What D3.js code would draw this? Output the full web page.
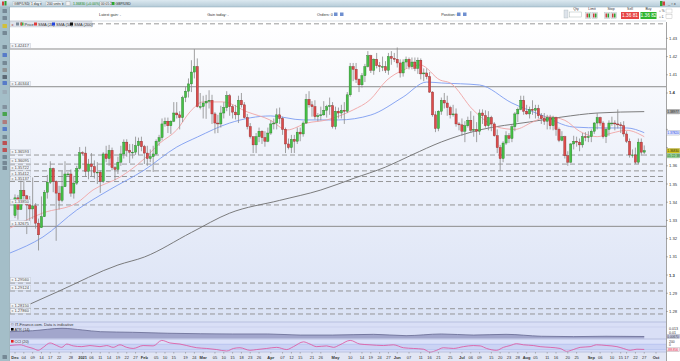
<!DOCTYPE html>
<html>
<head>
<meta charset="utf-8">
<script src="https://cdn.jsdelivr.net/npm/d3@7"></script>
<style>
  body { margin: 0; background: #fff; }
  svg text { font-family: "Liberation Sans", Arial, sans-serif; }
</style>
</head>
<body>
<svg id="chart" width="680" height="361"></svg>
<script>
// GBP/USD daily, 1 Dec 2020 -> 27 Sep 2021 (one row per weekday: open, high, low, close)
const ohlc = [
  // Dec 2020
  [1.3327,1.3443,1.3313,1.3424],[1.3424,1.3440,1.3304,1.3360],[1.3360,1.3540,1.3360,1.3465],[1.3465,1.3539,1.3404,1.3435],
  [1.3435,1.3440,1.3225,1.3385],[1.3385,1.3434,1.3286,1.3363],[1.3363,1.3536,1.3307,1.3380],[1.3380,1.3395,1.3255,1.3285],
  [1.3285,1.3310,1.3135,1.3221],[1.3260,1.3432,1.3260,1.3320],[1.3320,1.3467,1.3320,1.3455],[1.3455,1.3550,1.3420,1.3510],
  [1.3510,1.3625,1.3500,1.3585],[1.3585,1.3590,1.3455,1.3515],[1.3515,1.3520,1.3188,1.3450],[1.3450,1.3490,1.3360,1.3410],
  [1.3410,1.3570,1.3400,1.3485],[1.3485,1.3625,1.3485,1.3555],[1.3555,1.3565,1.3540,1.3555],[1.3555,1.3580,1.3430,1.3450],
  [1.3450,1.3545,1.3420,1.3505],[1.3505,1.3600,1.3495,1.3585],[1.3585,1.3703,1.3580,1.3672],
  // Jan 2021
  [1.3672,1.3680,1.3660,1.3670],[1.3670,1.3705,1.3540,1.3570],[1.3570,1.3638,1.3526,1.3610],[1.3610,1.3670,1.3540,1.3595],
  [1.3595,1.3630,1.3530,1.3565],[1.3565,1.3620,1.3500,1.3565],[1.3565,1.3575,1.3451,1.3515],[1.3515,1.3675,1.3505,1.3665],
  [1.3665,1.3710,1.3620,1.3640],[1.3640,1.3715,1.3600,1.3685],[1.3685,1.3700,1.3575,1.3590],[1.3590,1.3600,1.3520,1.3580],
  [1.3580,1.3650,1.3555,1.3620],[1.3620,1.3710,1.3600,1.3665],[1.3665,1.3745,1.3640,1.3730],[1.3730,1.3746,1.3650,1.3685],
  [1.3685,1.3720,1.3615,1.3675],[1.3675,1.3720,1.3640,1.3675],[1.3675,1.3760,1.3660,1.3710],[1.3710,1.3755,1.3660,1.3735],
  [1.3735,1.3760,1.3680,1.3705],
  // Feb
  [1.3705,1.3715,1.3610,1.3670],[1.3670,1.3710,1.3600,1.3640],[1.3640,1.3690,1.3620,1.3650],[1.3650,1.3710,1.3566,1.3665],
  [1.3665,1.3745,1.3660,1.3735],[1.3735,1.3770,1.3710,1.3755],[1.3755,1.3860,1.3740,1.3830],[1.3830,1.3865,1.3815,1.3845],
  [1.3845,1.3865,1.3780,1.3820],[1.3820,1.3850,1.3775,1.3845],[1.3845,1.3950,1.3840,1.3890],[1.3890,1.3950,1.3860,1.3880],
  [1.3880,1.3900,1.3800,1.3865],[1.3865,1.3985,1.3840,1.3975],[1.3975,1.4035,1.3950,1.4010],[1.4010,1.4080,1.3975,1.4050],
  [1.4050,1.4180,1.4005,1.4115],[1.4115,1.4241,1.4080,1.4145],[1.4145,1.4190,1.3920,1.3925],[1.3925,1.4000,1.3910,1.3925],
  // Mar
  [1.3925,1.3985,1.3860,1.3945],[1.3945,1.3990,1.3858,1.3955],[1.3955,1.4015,1.3915,1.3960],[1.3960,1.3990,1.3830,1.3885],
  [1.3885,1.3895,1.3778,1.3835],[1.3835,1.3880,1.3780,1.3830],[1.3830,1.3930,1.3810,1.3890],[1.3890,1.3950,1.3860,1.3920],
  [1.3920,1.4010,1.3900,1.3985],[1.3985,1.3995,1.3875,1.3925],[1.3925,1.3935,1.3860,1.3895],[1.3895,1.3935,1.3855,1.3880],
  [1.3880,1.3985,1.3835,1.3960],[1.3960,1.4000,1.3920,1.3935],[1.3935,1.3950,1.3860,1.3865],[1.3865,1.3885,1.3800,1.3815],
  [1.3815,1.3835,1.3750,1.3760],[1.3760,1.3760,1.3670,1.3715],[1.3715,1.3780,1.3670,1.3760],[1.3760,1.3810,1.3730,1.3790],
  [1.3790,1.3795,1.3720,1.3755],[1.3755,1.3790,1.3705,1.3735],[1.3735,1.3810,1.3730,1.3780],
  // Apr
  [1.3780,1.3850,1.3770,1.3830],[1.3830,1.3860,1.3800,1.3835],[1.3835,1.3915,1.3800,1.3880],[1.3880,1.3920,1.3830,1.3860],
  [1.3860,1.3870,1.3770,1.3800],[1.3800,1.3810,1.3670,1.3720],[1.3720,1.3750,1.3690,1.3700],[1.3700,1.3770,1.3670,1.3745],
  [1.3745,1.3770,1.3670,1.3735],[1.3735,1.3810,1.3720,1.3785],[1.3785,1.3810,1.3735,1.3775],[1.3775,1.3845,1.3760,1.3835],
  [1.3835,1.3995,1.3830,1.3965],[1.3965,1.4010,1.3920,1.3935],[1.3935,1.3955,1.3870,1.3925],[1.3925,1.3960,1.3855,1.3870],
  [1.3870,1.3890,1.3845,1.3875],[1.3875,1.3925,1.3850,1.3880],[1.3880,1.3955,1.3875,1.3905],[1.3905,1.3935,1.3865,1.3925],
  [1.3925,1.3975,1.3880,1.3930],[1.3930,1.3950,1.3805,1.3815],
  // May
  [1.3815,1.3925,1.3800,1.3900],[1.3900,1.3920,1.3860,1.3890],[1.3890,1.3935,1.3860,1.3905],[1.3905,1.3950,1.3830,1.3900],
  [1.3900,1.4005,1.3890,1.3990],[1.3990,1.4165,1.3980,1.4145],[1.4145,1.4165,1.4065,1.4130],[1.4130,1.4165,1.4055,1.4075],
  [1.4075,1.4080,1.4005,1.4045],[1.4045,1.4110,1.4030,1.4095],[1.4095,1.4160,1.4060,1.4145],[1.4145,1.4230,1.4140,1.4205],
  [1.4205,1.4210,1.4110,1.4125],[1.4125,1.4190,1.4100,1.4185],[1.4185,1.4220,1.4135,1.4150],[1.4150,1.4170,1.4115,1.4145],
  [1.4145,1.4200,1.4120,1.4145],[1.4145,1.4175,1.4110,1.4125],[1.4125,1.4220,1.4100,1.4200],[1.4200,1.4230,1.4155,1.4190],
  [1.4190,1.4220,1.4170,1.4185],
  // Jun
  [1.4185,1.4250,1.4140,1.4165],[1.4165,1.4185,1.4085,1.4110],[1.4110,1.4185,1.4090,1.4170],[1.4170,1.4200,1.4135,1.4185],
  [1.4185,1.4195,1.4130,1.4145],[1.4145,1.4195,1.4130,1.4170],[1.4170,1.4195,1.4120,1.4135],[1.4135,1.4195,1.4105,1.4180],
  [1.4180,1.4190,1.4075,1.4105],[1.4105,1.4135,1.4065,1.4110],[1.4110,1.4135,1.4075,1.4090],[1.4090,1.4115,1.4000,1.4005],
  [1.4005,1.4010,1.3870,1.3880],[1.3880,1.3900,1.3785,1.3805],[1.3805,1.3905,1.3790,1.3900],[1.3900,1.3975,1.3880,1.3960],
  [1.3960,1.4000,1.3915,1.3945],[1.3945,1.3985,1.3875,1.3920],[1.3920,1.3930,1.3860,1.3880],[1.3880,1.3935,1.3870,1.3885],
  [1.3885,1.3915,1.3815,1.3830],[1.3830,1.3840,1.3795,1.3825],
  // Jul
  [1.3825,1.3860,1.3765,1.3790],[1.3790,1.3845,1.3730,1.3820],[1.3820,1.3870,1.3810,1.3850],[1.3850,1.3900,1.3780,1.3795],
  [1.3795,1.3875,1.3760,1.3800],[1.3800,1.3840,1.3730,1.3790],[1.3790,1.3910,1.3770,1.3890],[1.3890,1.3910,1.3830,1.3875],
  [1.3875,1.3905,1.3810,1.3820],[1.3820,1.3900,1.3795,1.3865],[1.3865,1.3875,1.3790,1.3830],[1.3830,1.3840,1.3760,1.3765],
  [1.3765,1.3800,1.3670,1.3700],[1.3700,1.3715,1.3572,1.3640],[1.3640,1.3735,1.3620,1.3725],[1.3725,1.3790,1.3715,1.3765],
  [1.3765,1.3780,1.3725,1.3750],[1.3750,1.3825,1.3730,1.3815],[1.3815,1.3895,1.3790,1.3885],[1.3885,1.3920,1.3840,1.3910],
  [1.3910,1.3985,1.3905,1.3960],[1.3960,1.3985,1.3880,1.3900],
  // Aug
  [1.3900,1.3935,1.3880,1.3885],[1.3885,1.3925,1.3860,1.3910],[1.3910,1.3960,1.3880,1.3905],[1.3905,1.3935,1.3860,1.3915],
  [1.3915,1.3935,1.3860,1.3875],[1.3875,1.3890,1.3830,1.3860],[1.3860,1.3890,1.3825,1.3845],[1.3845,1.3880,1.3800,1.3865],
  [1.3865,1.3880,1.3800,1.3820],[1.3820,1.3875,1.3795,1.3865],[1.3865,1.3870,1.3765,1.3800],[1.3800,1.3810,1.3730,1.3740],
  [1.3740,1.3790,1.3735,1.3760],[1.3760,1.3765,1.3640,1.3655],[1.3655,1.3680,1.3600,1.3620],[1.3620,1.3725,1.3615,1.3720],
  [1.3720,1.3765,1.3690,1.3735],[1.3735,1.3760,1.3705,1.3730],[1.3730,1.3750,1.3680,1.3715],[1.3715,1.3780,1.3700,1.3760],
  [1.3760,1.3785,1.3735,1.3755],[1.3755,1.3790,1.3730,1.3760],
  // Sep
  [1.3760,1.3800,1.3730,1.3790],[1.3790,1.3840,1.3775,1.3835],[1.3835,1.3890,1.3800,1.3865],[1.3865,1.3870,1.3820,1.3835],
  [1.3835,1.3845,1.3750,1.3760],[1.3760,1.3810,1.3725,1.3800],[1.3800,1.3850,1.3765,1.3835],[1.3835,1.3870,1.3820,1.3835],
  [1.3835,1.3850,1.3795,1.3830],[1.3830,1.3910,1.3805,1.3825],[1.3825,1.3840,1.3780,1.3820],[1.3820,1.3845,1.3760,1.3775],
  [1.3775,1.3790,1.3725,1.3735],[1.3735,1.3750,1.3645,1.3660],[1.3660,1.3690,1.3645,1.3660],[1.3660,1.3700,1.3610,1.3620],
  [1.3620,1.3750,1.3610,1.3730],[1.3730,1.3750,1.3655,1.3675],[1.3675,1.3712,1.3665,1.3683]
];

// moving averages: [trading-day index, value]
const sma20 = [[-1.7,1.3258],[9.5,1.3341],[21,1.3396],[26.5,1.3467],[35.7,1.3538],[43.5,1.3632],[49.3,1.3725],[55,1.3797],
  [59.5,1.3896],[64,1.3951],[70.7,1.3951],[79,1.3896],[86.7,1.3852],[92.5,1.3797],[99.3,1.3835],[106,1.3852],[115,1.3907],
  [120.7,1.3962],[126.5,1.4071],[132,1.4126],[137.8,1.4154],[144.6,1.4071],[148,1.4055],[155.8,1.3907],[164,1.3813],
  [170,1.3800],[176,1.3840],[181,1.3870],[187,1.3850],[192,1.3790],[198,1.3760],[203,1.3780],[208,1.3795],[214,1.3760]];
const sma50 = [[-1.7,1.3121],[9.5,1.3209],[21,1.3357],[32,1.3467],[44,1.3577],[55,1.3703],[62,1.3758],[73,1.3835],
  [87,1.3874],[98,1.3852],[110,1.3852],[121,1.3879],[132,1.3978],[140,1.4060],[145,1.4055],[158,1.4044],[169,1.3945],
  [179,1.3879],[190,1.3813],[200,1.3808],[208,1.3808],[214,1.3782]];
const sma200 = [[-1.7,1.2791],[15,1.2912],[35,1.3055],[44,1.3099],[60,1.3234],[73,1.3340],[90,1.3410],[104,1.3467],
  [115,1.3530],[126,1.3593],[135,1.3660],[145,1.3731],[158,1.3797],[175,1.3841],[186,1.3868],[198,1.3890],[214,1.38977]];

// horizontal levels
const solidLevels = [1.42417, 1.40344, 1.32675];
const dashedLevels = [1.36593, 1.36095, 1.35722, 1.35412, 1.35137, 1.33850, 1.29560, 1.29124, 1.28150, 1.27860];
const topLevel = 1.43800;
const priceTicks = [1.28, 1.29, 1.30, 1.31, 1.32, 1.33, 1.34, 1.35, 1.36, 1.37, 1.38, 1.39, 1.40, 1.41, 1.42, 1.43];

// indicators: [trading-day index, value]
const atr = [[-1.7,0.0107],[6,0.0115],[16,0.0135],[23,0.0121],[29,0.0107],[40,0.0102],[52,0.0094],[63,0.0090],
  [74,0.0088],[86,0.0088],[97,0.0079],[108,0.0079],[122,0.0085],[133,0.0074],[145,0.0088],[156,0.0079],[167,0.0085],
  [179,0.0069],[190,0.0066],[201,0.0069],[214,0.0067]];
const cci = [[-1.7,53],[1.7,80],[4,13],[6.2,-53],[7.9,-120],[9.6,-13],[11.9,147],[14.2,53],[15.9,-13],[17.6,107],
  [19.8,40],[22.7,13],[25.5,53],[28.9,13],[31.2,53],[33.4,-13],[35.7,80],[38,-13],[40.2,-53],[43.6,53],[47,40],
  [49.9,240],[52.7,147],[56.1,107],[58.4,53],[61.8,-27],[65.2,-53],[68.6,-93],[72,-147],[74.3,-53],[76.5,-27],
  [79.9,-120],[82.2,-93],[85.6,-53],[89,-13],[92.4,-93],[94.7,13],[98.1,187],[100.3,107],[102.6,13],[106,40],
  [108.3,-13],[110.5,80],[114,240],[117.3,107],[120.7,80],[125.3,53],[128.7,80],[132.1,-27],[135.5,-53],[138.9,-80],
  [141.2,-187],[143.4,-120],[145.7,-27],[149.1,-53],[152.5,13],[155.9,53],[158.2,40],[160.4,-53],[163.8,-120],
  [166.1,-13],[168.4,53],[170.6,120],[172.9,80],[176.3,53],[178.6,13],[182,-13],[185.4,-53],[187.6,-160],[189.9,-93],
  [192.2,-13],[195.6,13],[197.8,80],[201.3,53],[204.7,13],[206.9,-53],[209.2,-120],[211.5,-80],[214,-88.856]];

// x-axis labels
const tickDates = ['2020-12-01','2020-12-04','2020-12-09','2020-12-14','2020-12-17','2020-12-22','2020-12-28','2021-01-01',
  '2021-01-06','2021-01-11','2021-01-14','2021-01-19','2021-01-22','2021-01-27','2021-02-01','2021-02-05','2021-02-10',
  '2021-02-15','2021-02-19','2021-02-24','2021-03-01','2021-03-05','2021-03-10','2021-03-15','2021-03-18','2021-03-23',
  '2021-03-26','2021-04-01','2021-04-07','2021-04-12','2021-04-15','2021-04-21','2021-04-26','2021-05-03','2021-05-10',
  '2021-05-14','2021-05-19','2021-05-24','2021-05-27','2021-06-01','2021-06-07','2021-06-11','2021-06-16','2021-06-21',
  '2021-06-25','2021-07-01','2021-07-06','2021-07-09','2021-07-15','2021-07-20','2021-07-23','2021-07-28','2021-08-02',
  '2021-08-05','2021-08-11','2021-08-16','2021-08-20','2021-08-25','2021-09-01','2021-09-06','2021-09-10','2021-09-15',
  '2021-09-17','2021-09-22','2021-09-27','2021-10-01'];
const tickText = ['Dec','04','09','14','17','22','28','2021','06','11','14','19','22','27','Feb','05','10','15','19','24',
  'Mar','05','10','15','18','23','26','Apr','07','12','15','21','26','May','10','14','19','24','27','Jun','07','11','16',
  '21','25','Jul','06','09','15','20','23','28','Aug','05','11','16','20','25','Sep','06','10','15','17','22','27','Oct'];

// ---------------------------------------------------------------------------
const svg = d3.select('#chart');
const fmt = d3.timeFormat('%Y-%m-%d');
const days = d3.timeDay.range(new Date(2020, 11, 1), new Date(2021, 9, 2))
  .filter(d => d.getDay() !== 0 && d.getDay() !== 6);
const dayIndex = new Map(days.map((d, i) => [fmt(d), i]));

const plot = {left: 10, right: 666, top: 22, bottom: 322};
const x = d3.scaleLinear().domain([-1.7, 221.4]).range([plot.left, plot.right]);
const y = d3.scaleLinear().domain([1.2742, 1.4390]).range([plot.bottom, plot.top]);
const yA = d3.scaleLinear().domain([0.00463, 0.01458]).range([339, 327]);
const yC = d3.scaleLinear().domain([-200, 200]).range([352.5, 341.5]);

const defs = svg.append('defs');
const g1 = defs.append('linearGradient').attr('id', 'paneBg').attr('x1', 0).attr('x2', 0).attr('y1', 0).attr('y2', 1);
g1.append('stop').attr('offset', '0%').attr('stop-color', '#ffffff');
g1.append('stop').attr('offset', '100%').attr('stop-color', '#dae2f5');
const g2 = defs.append('linearGradient').attr('id', 'barBg').attr('x1', 0).attr('x2', 0).attr('y1', 0).attr('y2', 1);
g2.append('stop').attr('offset', '0%').attr('stop-color', '#dce9f0');
g2.append('stop').attr('offset', '100%').attr('stop-color', '#b4cad7');
defs.append('clipPath').attr('id', 'clipMain').append('rect')
  .attr('x', plot.left).attr('y', plot.top).attr('width', plot.right - plot.left).attr('height', plot.bottom - plot.top);

// backgrounds
svg.append('rect').attr('width', 680).attr('height', 361).attr('fill', '#ffffff');
svg.append('rect').attr('x', plot.left).attr('y', plot.top).attr('width', plot.right - plot.left)
  .attr('height', plot.bottom - plot.top).attr('fill', 'url(#paneBg)');
svg.append('rect').attr('x', plot.left).attr('y', 322).attr('width', plot.right - plot.left).attr('height', 30)
  .attr('fill', '#d9dff6');
svg.append('rect').attr('x', plot.left).attr('y', 352).attr('width', 670).attr('height', 9).attr('fill', '#e2e6f4');

// main pane
const main = svg.append('g').attr('clip-path', 'url(#clipMain)');

main.append('line').attr('x1', plot.left).attr('x2', plot.right).attr('y1', y(topLevel)).attr('y2', y(topLevel))
  .attr('stroke', '#9a9a9a').attr('stroke-dasharray', '5,3');
main.selectAll('.lvl-solid').data(solidLevels).join('line')
  .attr('x1', plot.left).attr('x2', plot.right).attr('y1', d => y(d)).attr('y2', d => y(d))
  .attr('stroke', '#8c8c8c').attr('stroke-width', 1);
main.selectAll('.lvl-dash').data(dashedLevels).join('line')
  .attr('x1', plot.left).attr('x2', plot.right).attr('y1', d => y(d)).attr('y2', d => y(d))
  .attr('stroke', '#8c8c8c').attr('stroke-width', 0.9).attr('stroke-dasharray', '5,3');

const smaLine = d3.line().x(d => x(d[0])).y(d => y(d[1])).curve(d3.curveMonotoneX);
main.append('path').attr('d', smaLine(sma200)).attr('fill', 'none').attr('stroke', '#6e6e6e').attr('stroke-width', 0.9);
main.append('path').attr('d', smaLine(sma50)).attr('fill', 'none').attr('stroke', '#7d9cf0').attr('stroke-width', 0.9);
main.append('path').attr('d', smaLine(sma20)).attr('fill', 'none').attr('stroke', '#f0a4a4').attr('stroke-width', 0.9);

const candle = main.selectAll('.candle').data(ohlc).join('g');
candle.append('line')
  .attr('x1', (d, i) => x(i)).attr('x2', (d, i) => x(i))
  .attr('y1', d => y(d[1])).attr('y2', d => y(d[2]))
  .attr('stroke', '#8a8a8a').attr('stroke-width', 0.8);
candle.append('rect')
  .attr('x', (d, i) => x(i) - 1.1).attr('width', 2.2)
  .attr('y', d => y(Math.max(d[0], d[3])))
  .attr('height', d => Math.max(0.8, Math.abs(y(d[0]) - y(d[3]))))
  .attr('fill', d => d[3] >= d[0] ? '#46c046' : '#dd4b4b')
  .attr('stroke', d => d[3] >= d[0] ? '#2a7a2a' : '#8a2a2a').attr('stroke-width', 0.4);

// level labels on the left
const lvlLab = svg.selectAll('.lvl-lab').data(solidLevels.concat(dashedLevels)).join('g')
  .attr('transform', d => `translate(${plot.left + 0.5},${y(d) - 5.5})`);
lvlLab.append('rect').attr('width', 20).attr('height', 4.6).attr('fill', '#f4f6fb')
  .attr('stroke', '#b5bcc8').attr('stroke-width', 0.4);
lvlLab.append('text').attr('x', 1).attr('y', 3.7).attr('font-size', 3.8).attr('fill', '#777').text('x');
lvlLab.append('text').attr('x', 4).attr('y', 3.8).attr('font-size', 4).attr('fill', '#444').text(d => d.toFixed(5));

// legend row
const leg = svg.append('g').attr('transform', 'translate(10,21)');
leg.append('rect').attr('width', 82).attr('height', 6).attr('fill', '#dfe3ea').attr('stroke', '#c2c8d2').attr('stroke-width', 0.4);
leg.append('text').attr('x', 1.5).attr('y', 4.6).attr('font-size', 4).attr('fill', '#a03030').text('x');
leg.append('rect').attr('x', 6).attr('y', 1.5).attr('width', 3).attr('height', 3).attr('fill', '#7a8a9a');
const legItems = [['Price', '#3cb043', 10.5], ['SMA (20)', '#e03a3a', 24], ['SMA (50)', '#2545e0', 42], ['SMA (200)', '#111111', 60]];
legItems.forEach(([t, c, lx]) => {
  leg.append('rect').attr('x', lx).attr('y', 1.5).attr('width', 3).attr('height', 3).attr('fill', c);
  if (t === 'Price') leg.append('rect').attr('x', lx).attr('y', 1.5).attr('width', 1.5).attr('height', 3).attr('fill', '#dd4b4b');
  leg.append('text').attr('x', lx + 4).attr('y', 4.6).attr('font-size', 4).attr('fill', '#333').text(t);
});

// ATR pane
const atrPane = svg.append('g');
atrPane.append('line').attr('x1', plot.left).attr('x2', plot.right).attr('y1', 327).attr('y2', 327)
  .attr('stroke', '#c4cbe9').attr('stroke-width', 0.6);
atrPane.append('path')
  .attr('d', d3.area().x(d => x(d[0])).y0(338.5).y1(d => yA(d[1])).curve(d3.curveMonotoneX)(atr))
  .attr('fill', '#a2a6cc');
atrPane.append('path')
  .attr('d', d3.line().x(d => x(d[0])).y(d => yA(d[1])).curve(d3.curveMonotoneX)(atr))
  .attr('fill', 'none').attr('stroke', '#666a92').attr('stroke-width', 0.8);
atrPane.append('text').attr('x', 11).attr('y', 326).attr('font-size', 3.9).attr('fill', '#333')
  .text('© IT-Finance.com. Data is indicative');
atrPane.append('rect').attr('x', 11).attr('y', 328).attr('width', 2.6).attr('height', 2.6).attr('fill', '#000');
atrPane.append('text').attr('x', 14.5).attr('y', 330.6).attr('font-size', 3.8).attr('fill', '#333').text('ATR (14)');

// CCI pane
const cciPane = svg.append('g');
cciPane.append('rect').attr('x', plot.left).attr('y', 339).attr('width', plot.right - plot.left).attr('height', 13)
  .attr('fill', '#dbe1f9');
cciPane.append('rect').attr('x', plot.left).attr('y', yC(100)).attr('width', plot.right - plot.left)
  .attr('height', yC(-100) - yC(100)).attr('fill', '#cbd3f4');
[100, -100].forEach(v => cciPane.append('line').attr('x1', plot.left).attr('x2', plot.right)
  .attr('y1', yC(v)).attr('y2', yC(v)).attr('stroke', '#aab6ec').attr('stroke-width', 0.6));
cciPane.append('path')
  .attr('d', d3.line().x(d => x(d[0])).y(d => yC(d[1])).curve(d3.curveMonotoneX)(cci))
  .attr('fill', 'none').attr('stroke', '#e0509c').attr('stroke-width', 0.8);
cciPane.append('rect').attr('x', 11).attr('y', 340).attr('width', 2.6).attr('height', 2.6).attr('fill', '#e02020');
cciPane.append('text').attr('x', 14.5).attr('y', 342.6).attr('font-size', 3.8).attr('fill', '#333').text('CCI (20)');

// pane separators
[322, 339, 352].forEach(v => svg.append('line').attr('x1', plot.left).attr('x2', plot.right)
  .attr('y1', v).attr('y2', v).attr('stroke', '#a9b2d6').attr('stroke-width', 0.7));

// x-axis labels
const xt = svg.append('g');
tickDates.forEach((d, k) => {
  const i = dayIndex.get(d);
  const t = tickText[k];
  const bold = isNaN(+t) || t === '2021';
  xt.append('line').attr('x1', x(i)).attr('x2', x(i)).attr('y1', 352).attr('y2', 353.5)
    .attr('stroke', '#777').attr('stroke-width', 0.5);
  xt.append('text').attr('x', x(i)).attr('y', 358.6).attr('text-anchor', 'middle')
    .attr('font-size', 4).attr('font-weight', bold ? 'bold' : 'normal').attr('fill', '#333').text(t);
});

// right axis
const ax = svg.append('g');
ax.append('rect').attr('x', plot.right).attr('y', plot.top).attr('width', 14).attr('height', 339).attr('fill', '#ffffff');
ax.append('line').attr('x1', plot.right + 0.5).attr('x2', plot.right + 0.5).attr('y1', plot.top).attr('y2', 361)
  .attr('stroke', '#8c8c8c').attr('stroke-width', 0.8);
const last = ohlc[ohlc.length - 1];
const tagYs = [y(sma200[sma200.length - 1][1]), y(sma50[sma50.length - 1][1]), y(last[3]), y(last[3]) + 4.9];
priceTicks.forEach(v => {
  const lbl = Math.abs(v * 100 - Math.round(v * 10) * 10) < 1e-6 ? d3.format('.1f')(v) : d3.format('.2f')(v);
  ax.append('line').attr('x1', plot.right).attr('x2', plot.right + 2).attr('y1', y(v)).attr('y2', y(v))
    .attr('stroke', '#777').attr('stroke-width', 0.5);
  if (tagYs.some(t => Math.abs(t - y(v)) < 4.5)) return;
  ax.append('text').attr('x', plot.right + 3).attr('y', y(v) + 1.5).attr('font-size', 4.2)
    .attr('font-weight', lbl.length === 3 ? 'bold' : 'normal').attr('fill', '#333').text(lbl);
});
function tag(val, txt, bg, fg, h) {
  const hh = h || 4.8;
  const g = ax.append('g').attr('transform', `translate(${plot.right + 0.8},${val})`);
  g.append('rect').attr('x', 0).attr('y', -hh / 2).attr('width', 13).attr('height', hh).attr('fill', bg)
    .attr('stroke', '#9a9a9a').attr('stroke-width', 0.3);
  g.append('text').attr('x', 0.5).attr('y', 1.2).attr('font-size', 3.2).attr('fill', fg).text(txt);
}
tag(tagYs[0], sma200[sma200.length - 1][1].toFixed(5), '#b0b0b0', '#222');
tag(tagYs[1], sma50[sma50.length - 1][1].toFixed(5), '#dfe6ff', '#2545e0');
tag(tagYs[2], last[3].toFixed(5), '#d6c81e', '#222');
tag(tagYs[3], '05:22:38', '#9ad89a', '#1b5a1b');
[[0.013, '0.013'], [0.01, '0.01']].forEach(([v, t]) => ax.append('text').attr('x', plot.right + 3)
  .attr('y', yA(v) + 1.4).attr('font-size', 3.6).attr('fill', '#333').text(t));
tag(yA(atr[atr.length - 1][1]), '0.00670', '#c9cde8', '#333', 4.2);
ax.append('text').attr('x', plot.right + 3).attr('y', yC(200) + 1.3).attr('font-size', 3.4).attr('fill', '#333').text('200');
ax.append('text').attr('x', plot.right + 3).attr('y', yC(0) - 0.6).attr('font-size', 3.2).attr('fill', '#333').text('0');
tag(yC(cci[cci.length - 1][1]) + 0.3, '-88.856', '#fbe2e8', '#e03050', 4.2);

// top bar
const topBar = svg.append('g');
topBar.append('rect').attr('width', 680).attr('height', 7).attr('fill', 'url(#barBg)');
topBar.append('line').attr('x1', 0).attr('x2', 680).attr('y1', 7).attr('y2', 7).attr('stroke', '#8fa8b8').attr('stroke-width', 0.5);
topBar.append('rect').attr('x', 2).attr('y', 1.5).attr('width', 2).attr('height', 4).attr('fill', '#d04040');
topBar.append('rect').attr('x', 4.5).attr('y', 1).attr('width', 2).attr('height', 4.5).attr('fill', '#30a030');
[[13, 15, 'GBP/USD ▾'], [30, 11, '1 day ▾'], [46, 16, '200 units ▾']].forEach(([bx, bw, t]) => {
  topBar.append('rect').attr('x', bx).attr('y', 1.5).attr('width', bw).attr('height', 4.2).attr('fill', '#eef3f6')
    .attr('stroke', '#95a8b5').attr('stroke-width', 0.3);
  topBar.append('text').attr('x', bx + 1).attr('y', 4.8).attr('font-size', 3.4).attr('fill', '#222').text(t);
});
topBar.append('rect').attr('x', 66).attr('y', 1.5).attr('width', 4).attr('height', 4).attr('fill', '#f2f2f2').attr('stroke', '#999').attr('stroke-width', 0.3);
topBar.append('text').attr('x', 73).attr('y', 4.8).attr('font-size', 3.4).attr('fill', '#1c8a1c').text('1.36830 (+0.00%)');
topBar.append('rect').attr('x', 100).attr('y', 1.5).attr('width', 11).attr('height', 4.2).attr('fill', '#eef3f6')
  .attr('stroke', '#95a8b5').attr('stroke-width', 0.3);
topBar.append('text').attr('x', 101).attr('y', 4.8).attr('font-size', 3.3).attr('fill', '#222').text('00:05:22');
topBar.append('rect').attr('x', 112).attr('y', 2).attr('width', 2.5).attr('height', 3).attr('fill', '#2ea82e');
topBar.append('text').attr('x', 115.5).attr('y', 4.8).attr('font-size', 3.4).attr('fill', '#222').text('GBP/USD');
topBar.append('rect').attr('x', 660).attr('y', 1).attr('width', 2.5).attr('height', 5).attr('fill', '#30a030');
topBar.append('rect').attr('x', 662.5).attr('y', 1.5).attr('width', 2.5).attr('height', 4).attr('fill', '#d04040');
topBar.append('text').attr('x', 668).attr('y', 5).attr('font-size', 4).attr('fill', '#333').text('_ ▫ x');

// order row
const row = svg.append('g');
row.append('line').attr('x1', 10).attr('x2', 666).attr('y1', 21).attr('y2', 21).attr('stroke', '#b6c0cc').attr('stroke-width', 0.5);
[['Latest gain: -', 110], ['Gain today: -', 218], ['Orders: 0', 325], ['Position: 0', 450]].forEach(([t, tx]) => {
  row.append('text').attr('x', tx).attr('y', 15.5).attr('text-anchor', 'middle').attr('font-size', 3.8)
    .attr('fill', '#333').text(t);
});
[334, 340, 457, 463].forEach(ix => row.append('rect').attr('x', ix).attr('y', 12.5).attr('width', 3.5).attr('height', 3.5)
  .attr('fill', '#6f8fd0'));
row.append('rect').attr('x', 564).attr('y', 10).attr('width', 4).attr('height', 8).attr('fill', '#dde3ea').attr('stroke', '#9aa').attr('stroke-width', 0.3);
row.append('rect').attr('x', 569.5).attr('y', 12).attr('width', 12).attr('height', 5).attr('fill', '#fff').attr('stroke', '#9aa').attr('stroke-width', 0.4);
[['Qty', 576], ['Limit', 592], ['Stop', 611], ['Sell', 630], ['Buy', 648.5]].forEach(([t, tx]) =>
  row.append('text').attr('x', tx).attr('y', 10).attr('text-anchor', 'middle').attr('font-size', 3.5).attr('fill', '#333').text(t));
[585.5, 592, 604.5, 611].forEach(ix => {
  row.append('rect').attr('x', ix).attr('y', 12.5).attr('width', 5.5).attr('height', 6).attr('fill', '#e6eaee')
    .attr('stroke', '#9aa').attr('stroke-width', 0.3);
  row.append('rect').attr('x', ix + 1).attr('y', 13.5).attr('width', 1.5).attr('height', 4).attr('fill', '#d04040');
  row.append('rect').attr('x', ix + 3).attr('y', 13.5).attr('width', 1.5).attr('height', 4).attr('fill', '#30a030');
});
row.append('rect').attr('x', 621).attr('y', 12).attr('width', 18).attr('height', 7).attr('fill', '#e64545');
row.append('text').attr('x', 630).attr('y', 17.3).attr('text-anchor', 'middle').attr('font-size', 4.8)
  .attr('fill', '#fff').text('1.36 81');
row.append('rect').attr('x', 640.5).attr('y', 12).attr('width', 16).attr('height', 7).attr('fill', '#2fb52f');
row.append('text').attr('x', 648.5).attr('y', 17.3).attr('text-anchor', 'middle').attr('font-size', 4.8)
  .attr('fill', '#fff').text('1.36 82');
row.append('text').attr('x', 659).attr('y', 12).attr('font-size', 3.2).attr('fill', '#333').text('○ %');
row.append('text').attr('x', 659).attr('y', 18).attr('font-size', 3.2).attr('fill', '#333').text('○ £');
row.append('rect').attr('x', 666).attr('y', 9).attr('width', 6).attr('height', 4).attr('fill', '#fff').attr('stroke', '#999').attr('stroke-width', 0.3);
row.append('rect').attr('x', 666).attr('y', 14.5).attr('width', 6).attr('height', 4).attr('fill', '#fff').attr('stroke', '#999').attr('stroke-width', 0.3);

// left toolbar
const tb = svg.append('g');
tb.append('rect').attr('x', 0).attr('y', 7).attr('width', 9.5).attr('height', 354).attr('fill', '#a4bec8');
tb.append('line').attr('x1', 9.5).attr('x2', 9.5).attr('y1', 7).attr('y2', 361).attr('stroke', '#7f9aa6').attr('stroke-width', 0.6);
const iconY = [11, 18, 26, 33, 47, 55, 63, 70, 77, 83, 92, 107, 114, 122, 129, 137, 143, 150, 157, 163, 168, 357];
const iconC = ['#6d7f8c', '#6d7f8c', '#d8c020', '#6d7f8c', '#6d7f8c', '#4a70c8', '#6d7f8c', '#8a8a8a', '#505a66', '#4a70c8',
  '#9aa8b4', '#7c8a96', '#3aa03a', '#b07070', '#4a70c8', '#6d7f8c', '#c04040', '#c04040', '#6d7f8c', '#6d7f8c', '#6d7f8c', '#6d7f8c'];
iconY.forEach((iy, k) => tb.append('rect').attr('x', 2.5).attr('y', iy - 2).attr('width', 4.5).attr('height', 4)
  .attr('rx', 0.6).attr('fill', iconC[k]).attr('opacity', 0.85));
</script>
</body>
</html>
